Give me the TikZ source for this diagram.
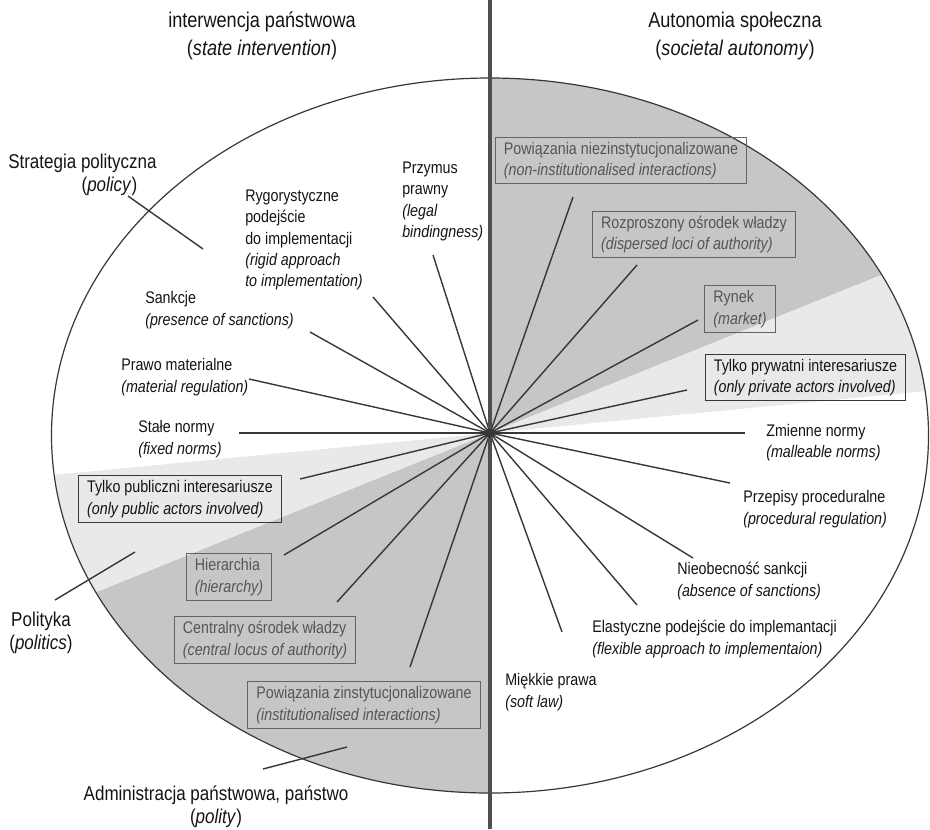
\documentclass[tikz,border=0pt]{standalone}
\usepackage{fontspec}
\setmainfont{Liberation Sans}[FakeStretch=0.85]
\definecolor{dkfill}{RGB}{198,198,198}
\definecolor{ltfill}{RGB}{233,233,233}
\definecolor{linec}{RGB}{55,55,55}
\definecolor{axisc}{RGB}{78,78,78}
\definecolor{txt}{RGB}{20,20,20}
\definecolor{fadetxt}{RGB}{85,85,85}
\definecolor{fadebox}{RGB}{100,100,100}
\tikzset{
  spoke/.style={draw=linec, line width=1.05pt},
  lab/.style={font=\fontsize{12.6}{16}\selectfont, inner sep=0pt, align=left, anchor=west, text=txt},
  boxlab/.style={draw=linec, line width=0.7pt, font=\fontsize{12.6}{16}\selectfont, inner xsep=6.5pt, inner ysep=3.5pt, align=left, text=txt},
  fadeboxlab/.style={boxlab, draw=fadebox, text=fadetxt},
  outer/.style={font=\fontsize{15}{17.5}\selectfont, inner sep=0pt, align=center, text=txt},
  ttl/.style={font=\fontsize{16}{21}\selectfont, inner sep=0pt, align=center, text=txt}
}
\begin{document}
\begin{tikzpicture}[x=0.75pt,y=-0.75pt]
\useasboundingbox (0,0) rectangle (930,829);
\coordinate (C) at (490,433);
% shading sectors
\begin{scope}
  \clip (490,435.5) ellipse [x radius=438.5, y radius=357.5];
  \fill[dkfill] (C) -- (490,-600) -- (1790,-600) -- (1790,-92) -- cycle;
  \fill[ltfill] (C) -- (1790,-92) -- (1790,308) -- cycle;
  \fill[dkfill] (C) -- (490,1400) -- (-800,1400) -- (-800,954) -- cycle;
  \fill[ltfill] (C) -- (-800,954) -- (-800,557) -- cycle;
\end{scope}
\draw[draw=linec, line width=0.9pt] (490,435.5) ellipse [x radius=438.5, y radius=357.5];

% titles
\node[ttl] (tl) at (262,36) {interwencja państwowa\\(\textit{state intervention})};
\node[ttl] (tr) at (735,36) {Autonomia społeczna\\(\textit{societal autonomy})};

% outer labels
\node[outer, anchor=west, align=left] (strat) at (8,174.5) {Strategia polityczna\\\hspace*{55pt}(\textit{policy})};
\node[outer] (polit) at (41,633) {Polityka\\(\textit{politics})};
\node[outer] (admin) at (216,806.5) {Administracja państwowa, państwo\\(\textit{polity})};
\coordinate (sa) at (128,196); \coordinate (sb) at (203,249);
\coordinate (pa) at (55,600); \coordinate (pb) at (135,552);
\coordinate (aa) at (263,769); \coordinate (ab) at (347,747);
\draw[spoke] (sa) -- (sb);
\draw[spoke] (pa) -- (pb);
\draw[spoke] (aa) -- (ab);

% left labels
\node[lab] (przym) at (402,201.5) {Przymus\\prawny\\\textit{(legal}\\\textit{bindingness)}};
\node[lab] (rygor) at (245,240) {Rygorystyczne\\podejście\\do implementacji\\\textit{(rigid approach}\\\textit{to implementation)}};
\node[lab] (sank) at (145,310) {Sankcje\\\textit{(presence of sanctions)}};
\node[lab] (prawo) at (121,377) {Prawo materialne\\\textit{(material regulation)}};
\node[lab] (stale) at (138,439) {Stałe normy\\\textit{(fixed norms)}};
\node[boxlab] (tpub) at (180,499) {Tylko publiczni interesariusze\\\textit{(only public actors involved)}};
\node[fadeboxlab] (hier) at (229,577) {Hierarchia\\\textit{(hierarchy)}};
\node[fadeboxlab] (centr) at (265,640) {Centralny ośrodek władzy\\\textit{(central locus of authority)}};
\node[fadeboxlab] (pzin) at (364,705) {Powiązania zinstytucjonalizowane\\\textit{(institutionalised interactions)}};

% right labels
\node[fadeboxlab] (bnz) at (621,160.5) {Powiązania niezinstytucjonalizowane\\\textit{(non-institutionalised interactions)}};
\node[fadeboxlab] (broz) at (694,234.5) {Rozproszony ośrodek władzy\\\textit{(dispersed loci of authority)}};
\node[fadeboxlab] (bryn) at (740,309) {Rynek\\\textit{(market)}};
\node[boxlab] (bpryw) at (805.5,377.5) {Tylko prywatni interesariusze\\\textit{(only private actors involved)}};
\node[lab] (zmien) at (766,442.5) {Zmienne normy\\\textit{(malleable norms)}};
\node[lab] (przep) at (743,509) {Przepisy proceduralne\\\textit{(procedural regulation)}};
\node[lab] (nieob) at (677,581) {Nieobecność sankcji\\\textit{(absence of sanctions)}};
\node[lab] (elast) at (592,639) {Elastyczne podejście do implemantacji\\\textit{(flexible approach to implementaion)}};
\node[lab] (miek) at (505,692) {Miękkie prawa\\\textit{(soft law)}};

% spoke ends
\coordinate (e1) at (433,255);
\coordinate (e2) at (373,297);
\coordinate (e3) at (310,332);
\coordinate (e4) at (249,379);
\coordinate (e5) at (239,433);
\coordinate (e6) at (300,479);
\coordinate (e7) at (284,555);
\coordinate (e8) at (337,602);
\coordinate (e9) at (410,667);
\coordinate (f1) at (573,197);
\coordinate (f2) at (637,265);
\coordinate (f3) at (698,320);
\coordinate (f4) at (687,390);
\coordinate (f5) at (745,433);
\coordinate (f6) at (730,483);
\coordinate (f7) at (693,558);
\coordinate (f8) at (637,605);
\coordinate (f9) at (562,632);
\foreach \e in {e1,e2,e3,e4,e6,e7,e8,e9,f1,f2,f3,f4,f6,f7,f8,f9}
  \draw[spoke] (C) -- (\e);
\draw[draw=linec, line width=1.3pt] (e5) -- (C) -- (f5);

% axis
\coordinate (vt) at (490,0); \coordinate (vb) at (490,829);
\draw[draw=axisc, line width=2.6pt] (vt) -- (vb);
\fill[linec] (C) circle [radius=5];
\end{tikzpicture}
\end{document}
